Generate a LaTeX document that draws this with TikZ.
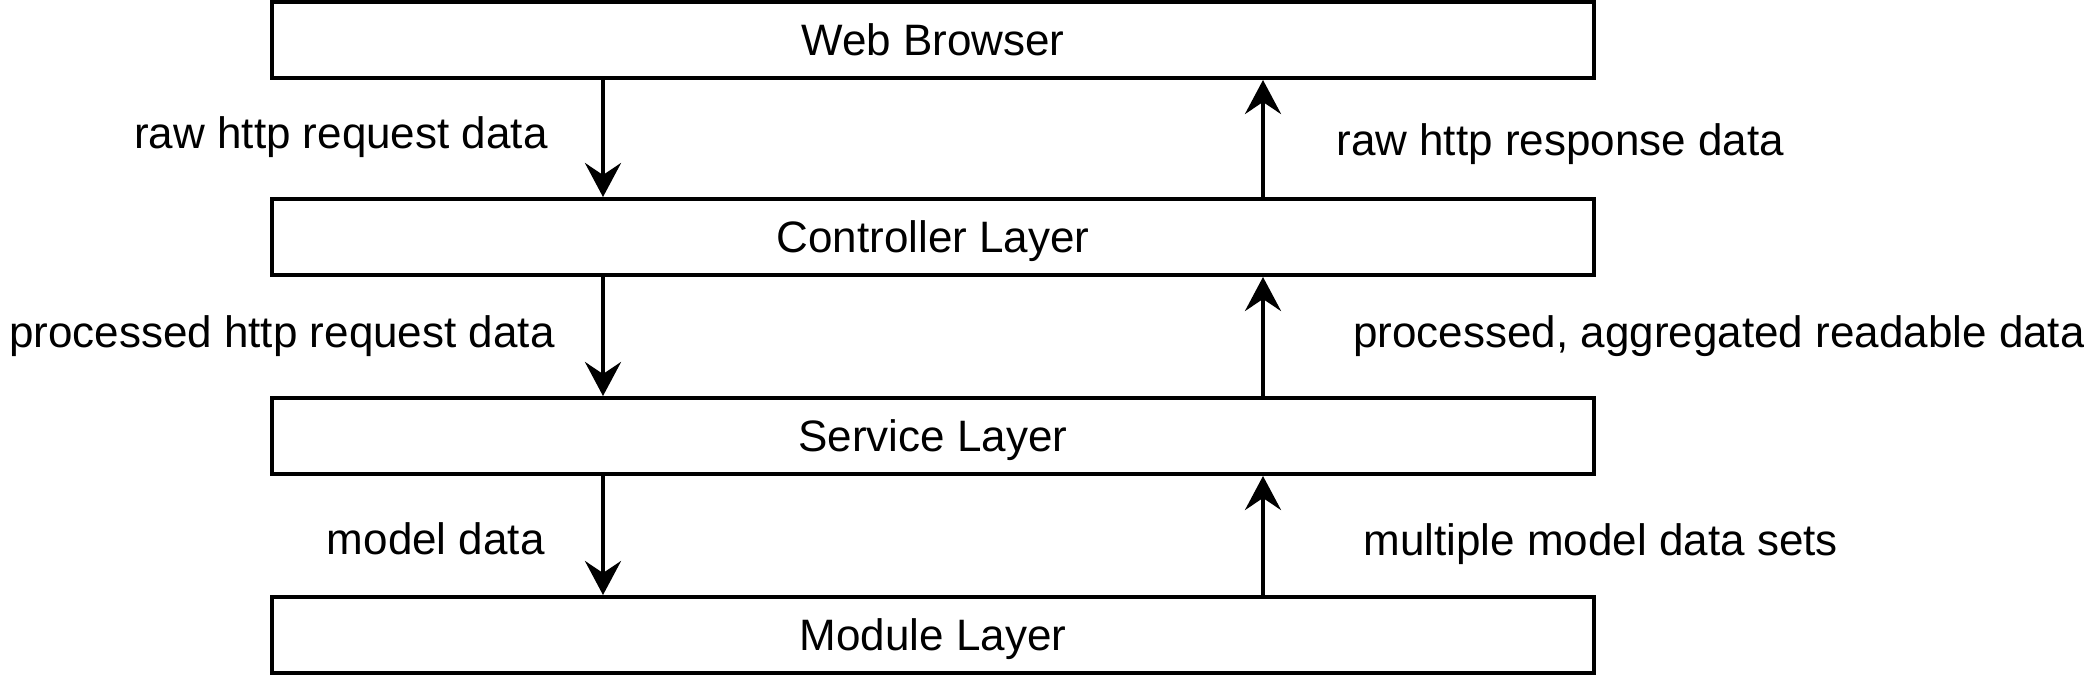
\documentclass[tikz,border=0pt]{standalone}
\usepackage{fontspec}
\setmainfont{Liberation Sans}
\usetikzlibrary{arrows.meta}
\begin{document}
\begin{tikzpicture}[x=0.5pt,y=-0.5pt,
  font=\fontsize{22pt}{26pt}\selectfont,
  layerbox/.style={draw=black,line width=2pt,fill=white,minimum width=661pt,minimum height=38pt,
    inner sep=0pt,text height=15.75pt,text depth=0pt},
  lbl/.style={inner sep=0pt},
  flow/.style={line width=2pt,-{Stealth[length=17pt,width=18pt,inset=6pt]}}]
\useasboundingbox (0,0) rectangle (2084,676);
\node[layerbox] (wb)  at (933,40)  {Web Browser};
\node[layerbox] (ctl) at (933,237) {Controller Layer};
\node[layerbox] (svc) at (933,436) {Service Layer};
\node[layerbox] (mod) at (933,635) {Module Layer};
\coordinate (dx) at (603,0);
\coordinate (ux) at (1263,0);
\draw[flow] (wb.south -| dx) -- (ctl.north -| dx);
\draw[flow] (ctl.south -| dx) -- (svc.north -| dx);
\draw[flow] (svc.south -| dx) -- (mod.north -| dx);
\draw[flow] (ctl.north -| ux) -- (wb.south -| ux);
\draw[flow] (svc.north -| ux) -- (ctl.south -| ux);
\draw[flow] (mod.north -| ux) -- (svc.south -| ux);
\node[lbl,anchor=base east] (l1) at (548,148) {raw http request data};
\node[lbl,anchor=base east] (l2) at (555,347) {processed http request data};
\node[lbl,anchor=base east] (l3) at (545,554) {model data};
\node[lbl,anchor=base west] (r1) at (1336,155) {raw http response data};
\node[lbl,anchor=base west] (r2) at (1353,347) {processed, aggregated readable data};
\node[lbl,anchor=base west] (r3) at (1363,555) {multiple model data sets};
\end{tikzpicture}
\end{document}
